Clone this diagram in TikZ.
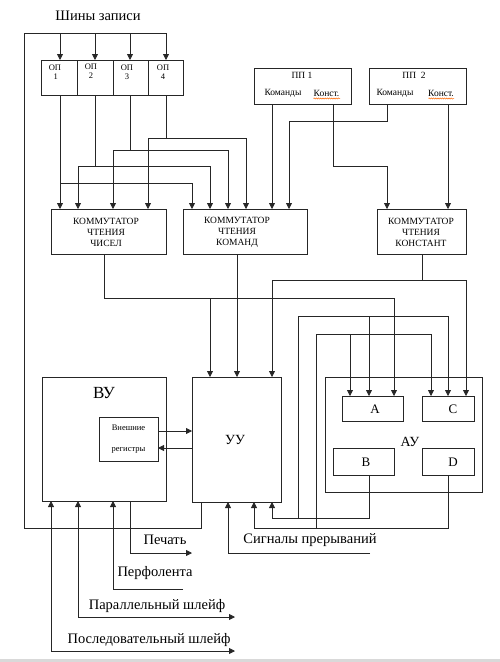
\documentclass[tikz,border=0pt]{standalone}
\usepackage{fontspec}
\setmainfont{Liberation Serif}
\usetikzlibrary{arrows.meta,decorations.pathmorphing}
\begin{document}
\begin{tikzpicture}[x=1pt,y=-1pt,
  box/.style={draw=black!85,line width=0.9pt,anchor=north west,inner sep=0pt,outer sep=0pt},
  wire/.style={draw=black!85,line width=0.8pt},
  arr/.style={wire,-{Triangle[length=6pt,width=6pt]}},
  darr/.style={wire,{Triangle[length=6pt,width=6pt]}-{Triangle[length=6pt,width=6pt]}},
  lbl/.style={inner sep=0pt,font=\fontsize{14.5}{16}\selectfont},
  small/.style={inner sep=0pt,align=center,font=\fontsize{8.5}{9}\selectfont},
  comm/.style={inner sep=0pt,align=center,font=\fontsize{9.5}{11}\selectfont},
  reg/.style={inner sep=0pt,font=\fontsize{13}{14}\selectfont},
  squig/.style={draw=orange!80!red,line width=0.5pt,decorate,decoration={snake,amplitude=0.6pt,segment length=2.2pt}}
]
\useasboundingbox (0,0) rectangle (500,662);
\fill[black!15] (0,659) rectangle (500,662);

% ---------- boxes ----------
\node[box,minimum width=36pt,minimum height=35pt] (op1) at (41,60) {};
\node[box,minimum width=36pt,minimum height=35pt] (op2) at (77,60) {};
\node[box,minimum width=35pt,minimum height=35pt] (op3) at (113,60) {};
\node[box,minimum width=35pt,minimum height=35pt] (op4) at (148,60) {};
\node[box,minimum width=97pt,minimum height=36pt] (pp1) at (254,68) {};
\node[box,minimum width=97pt,minimum height=36pt] (pp2) at (369,68) {};
\node[box,minimum width=115pt,minimum height=45pt] (kch) at (51,209) {};
\node[box,minimum width=124pt,minimum height=45pt] (kck) at (183,209) {};
\node[box,minimum width=89pt,minimum height=45pt] (kco) at (377,209) {};
\node[box,minimum width=124pt,minimum height=124pt] (vu) at (42,377) {};
\node[box,minimum width=59pt,minimum height=44pt] (regs) at (99,417) {};
\node[box,minimum width=89pt,minimum height=125pt] (uu) at (192,377) {};
\node[box,minimum width=157pt,minimum height=115pt] (au) at (325,377) {};
\node[box,minimum width=61pt,minimum height=25pt] (ra) at (342,396) {};
\node[box,minimum width=52pt,minimum height=25pt] (rc) at (422,396) {};
\node[box,minimum width=61pt,minimum height=27pt] (rb) at (333,448) {};
\node[box,minimum width=52pt,minimum height=27pt] (rd) at (422,448) {};

% ---------- texts ----------
\node[lbl] (title) at (98,16) {Шины записи};
\node[small] (t1) at (55,72) {ОП\\\,1};
\node[small] (t2) at (91,71) {ОП\\2};
\node[small] (t3) at (127,72) {ОП\\3};
\node[small] (t4) at (163,72) {ОП\\4};
\node[comm] (tpp1) at (302,75) {ПП 1};
\node[comm] (tpp1a) at (283,93) {Команды};
\node[comm] (tpp1b) at (326.5,93) {Конст.};
\node[comm] (tpp2) at (414,75) {ПП\ \ 2};
\node[comm] (tpp2a) at (395,93) {Команды};
\node[comm] (tpp2b) at (441,93) {Конст.};
\draw[squig] (313.5,98.5) -- (340,98.5);
\draw[squig] (428.5,98.5) -- (454,98.5);
\node[comm] (tkch) at (106,232) {КОММУТАТОР\\ЧТЕНИЯ\\ЧИСЕЛ};
\node[comm] (tkck) at (237,232) {КОММУТАТОР\\ЧТЕНИЯ\\КОМАНД};
\node[comm] (tkco) at (421,232) {КОММУТАТОР\\ЧТЕНИЯ\\КОНСТАНТ};
\node[inner sep=0pt,font=\fontsize{17}{18}\selectfont] (tvu) at (104,393) {ВУ};
\node[comm,font=\fontsize{8.5}{9}\selectfont] (treg1) at (128.5,428) {Внешние};
\node[comm,font=\fontsize{8.5}{9}\selectfont] (treg2) at (128.5,450) {регистры};
\node[reg,font=\fontsize{14}{15}\selectfont] (tuu) at (235,440) {УУ};
\node[reg,font=\fontsize{14}{15}\selectfont] (tau) at (410,442) {АУ};
\node[reg] (ta) at (375,409) {A};
\node[reg] (tc) at (453,409) {C};
\node[reg] (tb) at (366,462) {B};
\node[reg] (td) at (453,462) {D};
\node[lbl] (tpech) at (165,540) {Печать};
\node[lbl] (tperf) at (155,573) {Перфолента};
\node[lbl] (tpar) at (157,606) {Параллельный шлейф};
\node[lbl] (tposl) at (149,640) {Последовательный шлейф};
\node[lbl] (tsig) at (310,540) {Сигналы прерываний};

% ---------- write bus ----------
\coordinate (busL) at (24,33);
\coordinate (b1) at (60,33);
\coordinate (b2) at (95,33);
\coordinate (b3) at (130,33);
\coordinate (b4) at (166,33);
\draw[wire] (busL) -- (b4);
\foreach \i in {1,2,3,4} \draw[arr] (b\i) -- (b\i |- op\i.north);
\coordinate (uuo) at (201,528);
\draw[wire] (busL) -- (busL |- uuo) -- (uuo) -- (uuo |- uu.south);

% ---------- OP outputs ----------
\coordinate (j1) at (60,183);  \coordinate (j1r) at (192,183);
\coordinate (j2) at (95,166);  \coordinate (j2l) at (78,166);  \coordinate (j2r) at (210,166);
\coordinate (j3) at (130,150); \coordinate (j3l) at (113,150); \coordinate (j3r) at (228,150);
\coordinate (j4) at (166,138); \coordinate (j4l) at (148,138); \coordinate (j4r) at (246,138);
\draw[wire] (j1 |- op1.south) -- (j1) -- (j1r);
\draw[wire] (j2 |- op2.south) -- (j2);
\draw[wire] (j2l) -- (j2r);
\draw[wire] (j3 |- op3.south) -- (j3);
\draw[wire] (j3l) -- (j3r);
\draw[wire] (j4 |- op4.south) -- (j4);
\draw[wire] (j4l) -- (j4r);
\draw[arr] (j1) -- (j1 |- kch.north);
\draw[arr] (j2l) -- (j2l |- kch.north);
\draw[arr] (j3l) -- (j3l |- kch.north);
\draw[arr] (j4l) -- (j4l |- kch.north);
\draw[arr] (j1r) -- (j1r |- kck.north);
\draw[arr] (j2r) -- (j2r |- kck.north);
\draw[arr] (j3r) -- (j3r |- kck.north);
\draw[arr] (j4r) -- (j4r |- kck.north);

% ---------- PP outputs ----------
\coordinate (p1a) at (272,104);
\coordinate (p1b) at (333,166);
\coordinate (p1c) at (387,166);
\coordinate (p2a) at (387,121);
\coordinate (p2b) at (289,121);
\coordinate (p2c) at (448,104);
\draw[arr] (p1a |- pp1.south) -- (p1a |- kck.north);
\draw[arr] (p1b |- pp1.south) -- (p1b) -- (p1c) -- (p1c |- kco.north);
\draw[arr] (p2a |- pp2.south) -- (p2a) -- (p2b) -- (p2b |- kck.north);
\draw[arr] (p2c |- pp2.south) -- (p2c |- kco.north);

% ---------- commutator outputs ----------
\coordinate (c1) at (104,298);
\coordinate (c1u) at (210,298);
\coordinate (c1a) at (394,298);
\draw[wire] (c1 |- kch.south) -- (c1) -- (c1a);
\draw[arr] (c1a) -- (c1a |- ra.north);
\draw[arr] (c1u) -- (c1u |- uu.north);
\coordinate (c2) at (237,300);
\draw[arr] (c2 |- kck.south) -- (c2 |- uu.north);
\coordinate (c3) at (422,280);
\coordinate (c3l) at (272,280);
\coordinate (c3r) at (466,280);
\draw[wire] (c3 |- kco.south) -- (c3);
\draw[wire] (c3l) -- (c3r);
\draw[arr] (c3l) -- (c3l |- uu.north);
\draw[arr] (c3r) -- (c3r |- rc.north);

% ---------- B and D outputs ----------
\coordinate (bo) at (369,518);
\coordinate (bu) at (272,518);
\coordinate (bj) at (298,518);
\coordinate (bt) at (298,316);
\coordinate (bta) at (369,316);
\coordinate (btc) at (448,316);
\draw[wire] (bo |- rb.south) -- (bo) -- (bu);
\draw[arr] (bu) -- (bu |- uu.south);
\draw[wire] (bj) -- (bt) -- (btc);
\draw[arr] (bta) -- (bta |- ra.north);
\draw[arr] (btc) -- (btc |- rc.north);

\coordinate (do) at (448,528);
\coordinate (du) at (254,528);
\coordinate (dj) at (316,528);
\coordinate (dt) at (316,334);
\coordinate (dta) at (350,334);
\coordinate (dtc) at (431,334);
\draw[wire] (do |- rd.south) -- (do) -- (du);
\draw[arr] (du) -- (du |- uu.south);
\draw[wire] (dj) -- (dt) -- (dtc);
\draw[arr] (dta) -- (dta |- ra.north);
\draw[arr] (dtc) -- (dtc |- rc.north);

% ---------- registers <-> UU ----------
\coordinate (r1) at (158,431);
\coordinate (r2) at (158,448);
\draw[arr] (r1) -- (r1 -| uu.west);
\draw[arr] (r2 -| uu.west) -- (r2);

% ---------- interrupts ----------
\coordinate (s1) at (228,553);
\coordinate (s2) at (370,553);
\draw[arr] (s2) -- (s1) -- (s1 |- uu.south);

% ---------- VU periphery ----------
\coordinate (v1) at (130,553);
\coordinate (v1e) at (192,553);
\draw[arr] (v1 |- vu.south) -- (v1) -- (v1e);
\coordinate (v2) at (113,589);
\coordinate (v2e) at (183,589);
\draw[arr] (v2e) -- (v2) -- (v2 |- vu.south);
\coordinate (v3) at (78,617);
\coordinate (v3e) at (235,617);
\draw[darr] (v3 |- vu.south) -- (v3) -- (v3e);
\coordinate (v4) at (51,651);
\coordinate (v4e) at (235,651);
\draw[darr] (v4 |- vu.south) -- (v4) -- (v4e);
\end{tikzpicture}
\end{document}
